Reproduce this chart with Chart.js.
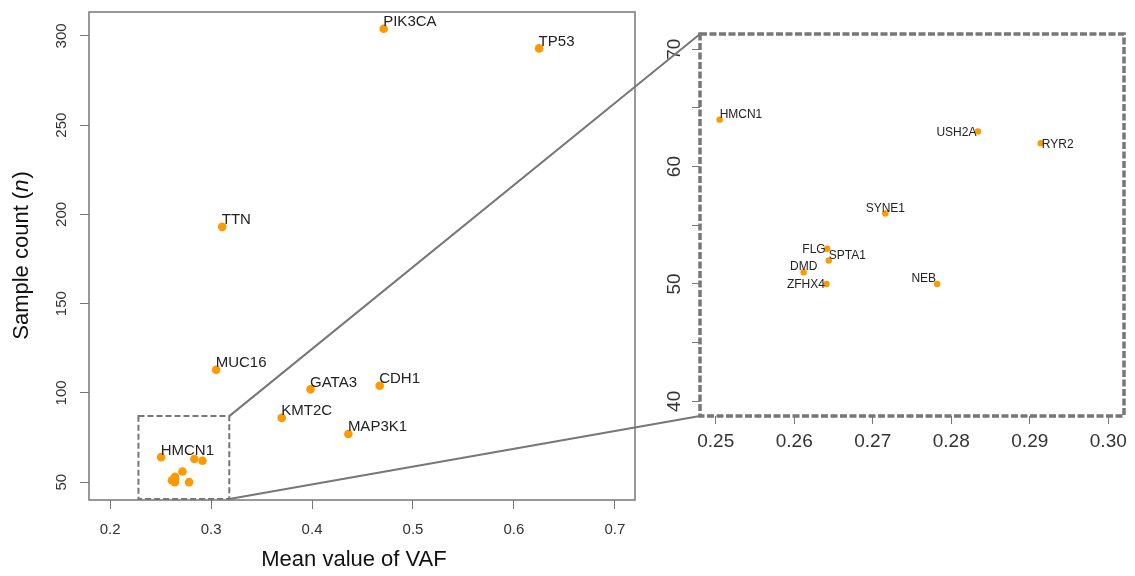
<!DOCTYPE html>
<html>
<head>
<meta charset="utf-8">
<script src="https://cdn.jsdelivr.net/npm/chart.js@4"></script>
<style>
  body { margin: 0; background: #fff; }
  #wrap { position: relative; width: 1135px; height: 576px; }
  canvas { position: absolute; top: 0; }
</style>
</head>
<body>
<div id="wrap">
  <canvas id="mainChart" width="650" height="576" style="left:0"></canvas>
  <canvas id="zoomChart" width="485" height="576" style="left:650px"></canvas>
  <canvas id="links" width="1135" height="576" style="left:0;pointer-events:none"></canvas>
</div>
<script>
// data
const genes = ['PIK3CA', 'TP53', 'TTN', 'MUC16', 'GATA3', 'CDH1', 'KMT2C', 'MAP3K1',
  'HMCN1', 'USH2A', 'RYR2', 'SYNE1', 'FLG', 'SPTA1', 'DMD', 'ZFHX4', 'NEB'];
const meanVaf = [0.471, 0.625, 0.311, 0.305, 0.3985, 0.467, 0.370, 0.436,
  0.2505, 0.2834, 0.2914, 0.2716, 0.2642, 0.2644, 0.2612, 0.2641, 0.2782];
const sampleCount = [304, 293, 193, 113, 102, 104, 86, 77,
  64, 63, 62, 56, 53, 52, 51, 50, 50];
const mainLabelled = ['PIK3CA', 'TP53', 'TTN', 'MUC16', 'GATA3', 'CDH1', 'KMT2C', 'MAP3K1', 'HMCN1'];

const mainXTicks = [0.2, 0.3, 0.4, 0.5, 0.6, 0.7];
const mainYTicks = [50, 100, 150, 200, 250, 300];
const zoomXTicks = [0.25, 0.26, 0.27, 0.28, 0.29, 0.30];
const zoomYTicks = [40, 45, 50, 55, 60, 65, 70];
const zoomYLabels = [40, 50, 60, 70];

// zoomed region marked on the main plot
const zoomBox = { xMin: 0.228, xMax: 0.318, yMin: 40.5, yMax: 87 };
// where each label sits relative to its point in the zoom panel
const zoomLabelPos = {
  HMCN1: 'aboveRight', USH2A: 'left', RYR2: 'right', SYNE1: 'above', FLG: 'left',
  SPTA1: 'aboveRight', DMD: 'above', ZFHX4: 'left', NEB: 'aboveLeft'
};

const FONT = '"Liberation Sans", Arial, sans-serif';
const ORANGE = '#FF9900';
const GREY = '#777777';

const allPoints = genes.map((g, i) => ({ x: meanVaf[i], y: sampleCount[i], gene: g }));
const zoomPoints = allPoints.filter(p => p.x >= 0.248 && p.x <= 0.302 && p.y <= 71);

function fmt(v, d) { return v.toFixed(d); }

function axisScales(o) {
  return {
    x: {
      type: 'linear', min: o.xMin, max: o.xMax,
      afterBuildTicks: s => { s.ticks = o.xTicks.map(v => ({ value: v })); },
      afterFit: s => { s.height = o.xHeight; },
      grid: { drawOnChartArea: false, drawTicks: true, tickLength: o.tickLen, color: GREY, lineWidth: 1 },
      border: { display: false },
      ticks: { display: false }
    },
    y: {
      type: 'linear', min: o.yMin, max: o.yMax,
      afterBuildTicks: s => { s.ticks = o.yTicks.map(v => ({ value: v })); },
      afterFit: s => { s.width = o.yWidth; },
      grid: { drawOnChartArea: false, drawTicks: true, tickLength: o.tickLen, color: GREY, lineWidth: 1 },
      border: { display: false },
      ticks: { display: false }
    }
  };
}

// main panel
const mainDecor = {
  id: 'mainDecor',
  afterDraw(chart) {
    const { ctx, chartArea: ca, scales: { x, y } } = chart;
    ctx.save();
    ctx.strokeStyle = GREY;
    ctx.lineWidth = 1.5;
    ctx.strokeRect(ca.left, ca.top, ca.right - ca.left, ca.bottom - ca.top);

    // dashed zoom box
    const bx0 = x.getPixelForValue(zoomBox.xMin), bx1 = x.getPixelForValue(zoomBox.xMax);
    const by0 = y.getPixelForValue(zoomBox.yMax), by1 = y.getPixelForValue(zoomBox.yMin);
    ctx.setLineDash([6, 3]);
    ctx.lineWidth = 2;
    ctx.strokeRect(bx0, by0, bx1 - bx0, by1 - by0);
    ctx.setLineDash([]);

    ctx.fillStyle = '#333';
    ctx.font = '15px ' + FONT;
    ctx.textAlign = 'center';
    ctx.textBaseline = 'middle';
    x.ticks.forEach(t => ctx.fillText(fmt(t.value, 1), x.getPixelForValue(t.value), ca.bottom + 30));
    y.ticks.forEach(t => {
      ctx.save();
      ctx.translate(ca.left - 27, y.getPixelForValue(t.value));
      ctx.rotate(-Math.PI / 2);
      ctx.fillText(String(t.value), 0, 0);
      ctx.restore();
    });

    // axis titles
    ctx.fillStyle = '#111';
    ctx.font = '22px ' + FONT;
    ctx.fillText('Mean value of VAF', 354, 560);
    ctx.save();
    ctx.translate(22, (ca.top + ca.bottom) / 2);
    ctx.rotate(-Math.PI / 2);
    const p1 = 'Sample count (', p3 = ')';
    ctx.font = '22px ' + FONT;
    const w1 = ctx.measureText(p1).width, w3 = ctx.measureText(p3).width;
    ctx.font = 'italic 22px ' + FONT;
    const w2 = ctx.measureText('n').width;
    let sx = -(w1 + w2 + w3) / 2;
    ctx.textAlign = 'left';
    ctx.font = '22px ' + FONT;
    ctx.fillText(p1, sx, 0);
    ctx.font = 'italic 22px ' + FONT;
    ctx.fillText('n', sx + w1, 0);
    ctx.font = '22px ' + FONT;
    ctx.fillText(p3, sx + w1 + w2 + 1, 0);
    ctx.restore();
    ctx.restore();
  },
  afterDatasetsDraw(chart) {
    const { ctx } = chart;
    const meta = chart.getDatasetMeta(0);
    ctx.save();
    ctx.fillStyle = '#222';
    ctx.font = '15px ' + FONT;
    ctx.textAlign = 'left';
    ctx.textBaseline = 'alphabetic';
    meta.data.forEach((el, i) => {
      const p = allPoints[i];
      if (!mainLabelled.includes(p.gene)) return;
      ctx.fillText(p.gene, el.x - 0.5, el.y - 2.5);
    });
    ctx.restore();
  }
};

const mainChart = new Chart(document.getElementById('mainChart'), {
  type: 'scatter',
  data: {
    datasets: [{
      data: allPoints,
      backgroundColor: ORANGE, borderColor: ORANGE, borderWidth: 0,
      pointRadius: 4.3, pointHoverRadius: 4.3
    }]
  },
  options: {
    responsive: false, animation: false, devicePixelRatio: 1,
    layout: { padding: { left: 0, top: 12, right: 15, bottom: 0 } },
    plugins: { legend: { display: false }, tooltip: { enabled: false } },
    scales: axisScales({
      xMin: 0.179, xMax: 0.72, yMin: 40, yMax: 313.4,
      xTicks: mainXTicks, yTicks: mainYTicks, xHeight: 76, yWidth: 89, tickLen: 9
    })
  },
  plugins: [mainDecor]
});

// zoom panel
const zoomDecor = {
  id: 'zoomDecor',
  afterDraw(chart) {
    const { ctx, chartArea: ca, scales: { x, y } } = chart;
    ctx.save();
    ctx.strokeStyle = GREY;
    ctx.lineWidth = 3.5;
    ctx.setLineDash([7, 2.5]);
    ctx.strokeRect(ca.left, ca.top, ca.right - ca.left, ca.bottom - ca.top);
    ctx.setLineDash([]);

    ctx.fillStyle = '#333';
    ctx.font = '19px ' + FONT;
    ctx.textAlign = 'center';
    ctx.textBaseline = 'middle';
    x.ticks.forEach(t => ctx.fillText(fmt(t.value, 2), x.getPixelForValue(t.value), ca.bottom + 26));
    y.ticks.forEach(t => {
      if (!zoomYLabels.includes(t.value)) return;
      ctx.save();
      ctx.translate(ca.left - 25, y.getPixelForValue(t.value));
      ctx.rotate(-Math.PI / 2);
      ctx.fillText(String(t.value), 0, 0);
      ctx.restore();
    });
    ctx.restore();
  },
  afterDatasetsDraw(chart) {
    const { ctx } = chart;
    const meta = chart.getDatasetMeta(0);
    ctx.save();
    ctx.fillStyle = '#222';
    ctx.font = '12px ' + FONT;
    ctx.textBaseline = 'alphabetic';
    meta.data.forEach((el, i) => {
      const g = zoomPoints[i].gene;
      const pos = zoomLabelPos[g] || 'aboveRight';
      let tx = el.x, ty = el.y;
      if (pos === 'aboveRight') { ctx.textAlign = 'left'; tx += 0; ty -= 2; }
      else if (pos === 'above') { ctx.textAlign = 'center'; ty -= 2; }
      else if (pos === 'aboveLeft') { ctx.textAlign = 'right'; tx -= 1; ty -= 2; }
      else if (pos === 'left') { ctx.textAlign = 'right'; tx -= 1.5; ty += 4.5; }
      else if (pos === 'right') { ctx.textAlign = 'left'; tx += 1; ty += 4.5; }
      ctx.fillText(g, tx, ty);
    });
    ctx.restore();
  }
};

const zoomChart = new Chart(document.getElementById('zoomChart'), {
  type: 'scatter',
  data: {
    datasets: [{
      data: zoomPoints,
      backgroundColor: ORANGE, borderColor: ORANGE, borderWidth: 0,
      pointRadius: 3.2, pointHoverRadius: 3.2
    }]
  },
  options: {
    responsive: false, animation: false, devicePixelRatio: 1,
    layout: { padding: { left: 0, top: 34, right: 11, bottom: 0 } },
    plugins: { legend: { display: false }, tooltip: { enabled: false } },
    scales: axisScales({
      xMin: 0.248, xMax: 0.302, yMin: 38.75, yMax: 71.3,
      xTicks: zoomXTicks, yTicks: zoomYTicks, xHeight: 160, yWidth: 50, tickLen: 8
    })
  },
  plugins: [zoomDecor]
});

// connector lines between the two panels
(function drawLinks() {
  const ctx = document.getElementById('links').getContext('2d');
  const mx = mainChart.scales.x, my = mainChart.scales.y;
  const za = zoomChart.chartArea;
  const off = 650;
  const bx = mx.getPixelForValue(zoomBox.xMax);
  const top = my.getPixelForValue(zoomBox.yMax), bot = my.getPixelForValue(zoomBox.yMin);
  ctx.strokeStyle = GREY;
  ctx.lineWidth = 2;
  ctx.beginPath();
  ctx.moveTo(bx, top); ctx.lineTo(off + za.left, za.top);
  ctx.moveTo(bx, bot); ctx.lineTo(off + za.left, za.bottom);
  ctx.stroke();
})();
</script>
</body>
</html>
